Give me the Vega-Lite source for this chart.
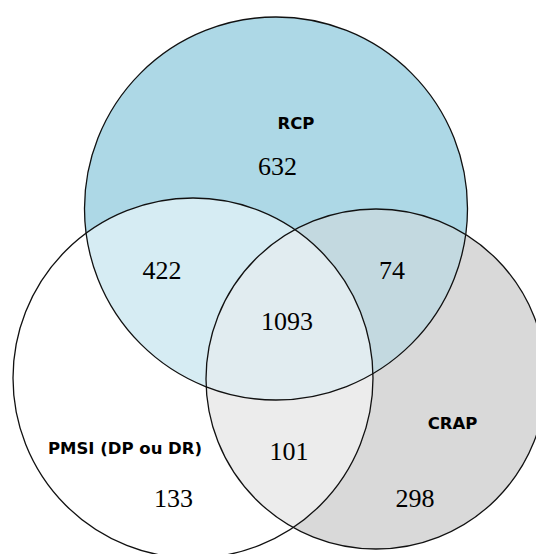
{
  "$schema": "https://vega.github.io/schema/vega-lite/v6.json",
  "description": "Venn diagram of RCP, PMSI (DP ou DR) and CRAP.",
  "width": 536,
  "height": 554,
  "padding": 0,
  "autosize": {"type": "fit", "contains": "padding"},
  "config": {"view": {"stroke": null}},
  "datasets": {
    "circles": [
      {"set": "RCP", "cx": 276, "cy": 345.5, "r": 191.5},
      {"set": "PMSI (DP ou DR)", "cx": 193, "cy": 176, "r": 180},
      {"set": "CRAP", "cx": 376, "cy": 175, "r": 170}
    ],
    "names": [
      {"label": "RCP", "x": 296, "y": 425},
      {"label": "CRAP", "x": 452.5, "y": 125.5},
      {"label": "PMSI (DP ou DR)", "x": 125, "y": 100.5}
    ],
    "counts": [
      {"region": "RCP only", "n": "632", "x": 277.5, "y": 379},
      {"region": "RCP & PMSI", "n": "422", "x": 162, "y": 275.5},
      {"region": "RCP & CRAP", "n": "74", "x": 392, "y": 275.5},
      {"region": "all", "n": "1093", "x": 287, "y": 224.5},
      {"region": "PMSI & CRAP", "n": "101", "x": 289, "y": 94.5},
      {"region": "PMSI only", "n": "133", "x": 173.5, "y": 47.5},
      {"region": "CRAP only", "n": "298", "x": 415, "y": 47.5}
    ]
  },
  "encoding": {
    "x": {"type": "quantitative", "scale": {"domain": [0, 536], "nice": false, "zero": false}, "axis": null},
    "y": {"type": "quantitative", "scale": {"domain": [0, 554], "nice": false, "zero": false}, "axis": null}
  },
  "layer": [
    {
      "data": {"name": "circles"},
      "transform": [{"filter": "datum.set == 'CRAP'"}],
      "mark": {"type": "point", "shape": "circle", "filled": true, "fill": "#d9d9d9", "opacity": 1, "strokeWidth": 0, "clip": true},
      "encoding": {
        "x": {"field": "cx"},
        "y": {"field": "cy"},
        "size": {"field": "r", "type": "quantitative", "scale": {"type": "pow", "exponent": 2, "domain": [0, 100], "range": [0, 40000]}, "legend": null}
      }
    },
    {
      "data": {"name": "circles"},
      "transform": [{"filter": "datum.set == 'RCP'"}],
      "mark": {"type": "point", "shape": "circle", "filled": true, "fill": "#add8e6", "opacity": 1, "strokeWidth": 0, "clip": true},
      "encoding": {
        "x": {"field": "cx"},
        "y": {"field": "cy"},
        "size": {"field": "r", "type": "quantitative", "legend": null}
      }
    },
    {
      "data": {"name": "circles"},
      "transform": [{"filter": "datum.set == 'CRAP'"}],
      "mark": {"type": "point", "shape": "circle", "filled": true, "fill": "#d9d9d9", "opacity": 0.5, "strokeWidth": 0, "clip": true},
      "encoding": {
        "x": {"field": "cx"},
        "y": {"field": "cy"},
        "size": {"field": "r", "type": "quantitative", "legend": null}
      }
    },
    {
      "data": {"name": "circles"},
      "transform": [{"filter": "datum.set == 'PMSI (DP ou DR)'"}],
      "mark": {"type": "point", "shape": "circle", "filled": true, "fill": "#ffffff", "opacity": 0.5, "strokeWidth": 0, "clip": true},
      "encoding": {
        "x": {"field": "cx"},
        "y": {"field": "cy"},
        "size": {"field": "r", "type": "quantitative", "legend": null}
      }
    },
    {
      "data": {"name": "circles"},
      "mark": {"type": "point", "shape": "circle", "filled": false, "stroke": "#111111", "strokeWidth": 1.3, "opacity": 1, "clip": true},
      "encoding": {
        "x": {"field": "cx"},
        "y": {"field": "cy"},
        "size": {"field": "r", "type": "quantitative", "legend": null}
      }
    },
    {
      "data": {"name": "names"},
      "mark": {"type": "text", "font": "DejaVu Sans", "fontWeight": "bold", "fontSize": 16.5, "align": "center", "baseline": "alphabetic", "color": "#000000"},
      "encoding": {
        "x": {"field": "x"},
        "y": {"field": "y"},
        "text": {"field": "label"}
      }
    },
    {
      "data": {"name": "counts"},
      "mark": {"type": "text", "font": "Liberation Serif", "fontSize": 26, "align": "center", "baseline": "alphabetic", "color": "#000000"},
      "encoding": {
        "x": {"field": "x"},
        "y": {"field": "y"},
        "text": {"field": "n"}
      }
    }
  ]
}
